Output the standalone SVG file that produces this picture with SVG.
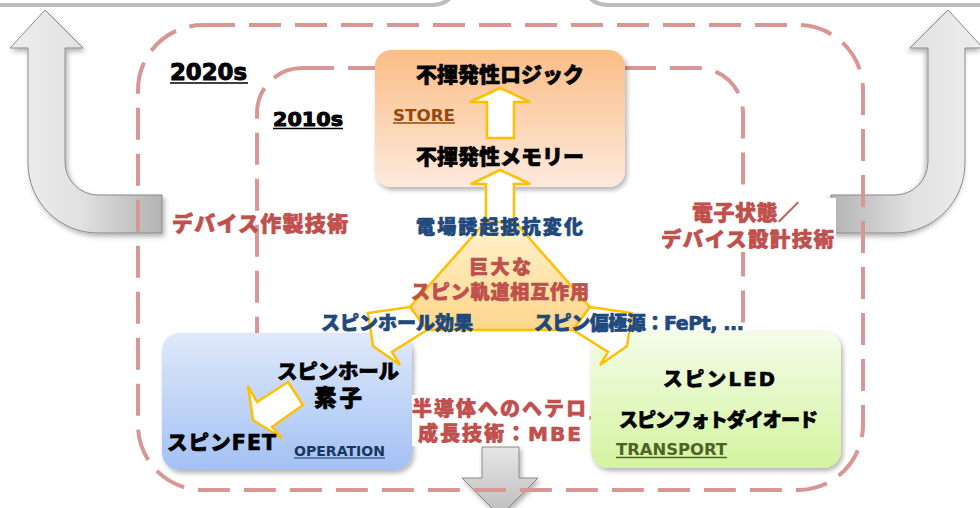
<svg xmlns="http://www.w3.org/2000/svg" width="980" height="508" viewBox="0 0 980 508">
<defs>
  <linearGradient id="gArrowH" x1="0" y1="0" x2="1" y2="0">
    <stop offset="0" stop-color="#eeeeee"/><stop offset="0.45" stop-color="#e2e2e2"/><stop offset="1" stop-color="#b3b3b3"/>
  </linearGradient>
  <linearGradient id="gArrowV" x1="0" y1="0" x2="0" y2="1">
    <stop offset="0" stop-color="#e6e6e6"/><stop offset="1" stop-color="#bcbcbc"/>
  </linearGradient>
  <linearGradient id="gOrange" x1="0" y1="0" x2="0" y2="1">
    <stop offset="0" stop-color="#fbbd85"/><stop offset="1" stop-color="#fdeadd"/>
  </linearGradient>
  <linearGradient id="gBlue" x1="0" y1="0" x2="0" y2="1">
    <stop offset="0" stop-color="#dfe9fa"/><stop offset="1" stop-color="#a3c1f4"/>
  </linearGradient>
  <linearGradient id="gGreen" x1="0" y1="0" x2="0" y2="1">
    <stop offset="0" stop-color="#f4fce8"/><stop offset="1" stop-color="#d4f4a0"/>
  </linearGradient>
  <linearGradient id="gTri" x1="0" y1="0" x2="0" y2="1">
    <stop offset="0" stop-color="#fff3d0"/><stop offset="1" stop-color="#fdd68a"/>
  </linearGradient>
  <filter id="shadow" x="-10%" y="-10%" width="125%" height="130%">
    <feDropShadow dx="2" dy="3" stdDeviation="2.5" flood-color="#000" flood-opacity="0.3"/>
  </filter>
</defs>
<style>
  .frame{fill:none;stroke:#d99694;stroke-width:4;stroke-dasharray:32 14}
  .topline{fill:none;stroke:#bdbdbd;stroke-width:4}
  .gray{stroke:#8a8a8a;stroke-width:1}
  .gold{fill:#ffffff;stroke:#ffc000;stroke-width:2.5;stroke-linejoin:miter}
  .box{filter:url(#shadow)}
  .jp{font-family:"Noto Sans CJK JP","Noto Sans CJK SC",sans-serif;font-weight:900;stroke-width:0.7;stroke-linejoin:round}
  .lat{font-family:"DejaVu Sans","Liberation Sans",sans-serif;font-weight:bold}
  .la{font-family:"DejaVu Sans","Liberation Sans",sans-serif;font-weight:bold}
  .k{fill:#000000;stroke:#000000}
  .r{fill:#c0504d;stroke:#c0504d}
  .b{fill:#1f497d;stroke:#1f497d}
</style>

<rect x="0" y="0" width="980" height="508" fill="#ffffff"/>

<!-- top gray outlines (partially visible) -->
<g id="top-outlines">
  <rect class="topline" x="-60" y="-200" width="518" height="205" rx="25"/>
  <rect class="topline" x="582" y="-200" width="460" height="205" rx="25"/>
</g>

<g id="connectors">
  <path id="arrow-left" class="gray" fill="url(#gArrowH)" filter="url(#shadow)"
        d="M45,10 L83,48 L65,48 L65,162 A33,33 0 0 0 98,195 L162,195 L162,233 L98,233 A70,70 0 0 1 28,163 L28,48 L10,48 Z"/>
  <path id="arrow-right" class="gray" fill="url(#gArrowH)" filter="url(#shadow)" transform="translate(993,0) scale(-1,1)"
        d="M45,10 L83,48 L65,48 L65,162 A33,33 0 0 0 98,195 L162,195 L162,233 L98,233 A70,70 0 0 1 28,163 L28,48 L10,48 Z"/>
  <path id="arrow-down" class="gray" fill="url(#gArrowV)" filter="url(#shadow)"
        d="M482,447 L519,447 L519,478 L538,478 L500,516 L462,478 L482,478 Z"/>
</g>

<g id="frames">
  <rect id="frame-2020s" class="frame" x="138" y="25" width="725" height="465" rx="65"/>
  <rect id="frame-2010s" class="frame" x="257" y="68" width="486" height="350" rx="45"/>
</g>

<g id="node-store">
  <rect class="box" x="375" y="50" width="250" height="137" rx="16" fill="url(#gOrange)"/>
  <polygon class="gold" points="500,88 530,102 514,102 514,138 487,138 487,102 470,102"/>
  <text class="jp k" x="416" y="81.5" font-size="21" textLength="168">不揮発性ロジック</text>
  <text class="jp k" x="416" y="163.5" font-size="21" textLength="168">不揮発性メモリー</text>
  <text class="lat" fill="#984807" x="393" y="120.5" font-size="15" textLength="62" lengthAdjust="spacingAndGlyphs">STORE</text>
  <line x1="393" y1="123" x2="455" y2="123" stroke="#984807" stroke-width="1.3"/>
</g>

<g id="node-operation">
  <rect class="box" x="162" y="333" width="250" height="137" rx="18" fill="url(#gBlue)"/>
  <polygon class="gold" points="288,382 257,402 248,386 253,420 282,438 272,427 303,405"/>
  <text class="jp k" x="277" y="378.5" font-size="20.5" textLength="122">スピンホール</text>
  <text class="jp k" x="314" y="406" font-size="22.5" textLength="48">素子</text>
  <text class="jp k" x="167" y="450" font-size="20.5" textLength="109">スピン<tspan class="la">FET</tspan></text>
  <text class="lat" fill="#17375e" x="294" y="455.5" font-size="13.5" textLength="91" lengthAdjust="spacingAndGlyphs">OPERATION</text>
  <line x1="294" y1="458" x2="385" y2="458" stroke="#17375e" stroke-width="1.2"/>
</g>

<g id="node-transport">
  <rect class="box" x="591" y="331" width="250" height="137" rx="18" fill="url(#gGreen)"/>
  <text class="jp k" x="663" y="386" font-size="19.5" textLength="112">スピン<tspan class="la">LED</tspan></text>
  <text class="jp k" x="619" y="426.5" font-size="19" textLength="199">スピンフォトダイオード</text>
  <text class="lat" fill="#4f6228" x="616" y="455" font-size="15" textLength="111" lengthAdjust="spacingAndGlyphs">TRANSPORT</text>
  <line x1="616" y1="457.5" x2="727" y2="457.5" stroke="#4f6228" stroke-width="1.3"/>
</g>

<g id="node-center">
  <polygon points="486,221 514,221 590,307 573,330 427,330 410,307" fill="url(#gTri)" stroke="#ffc000" stroke-width="2.5" stroke-linejoin="miter"/>
  <polygon class="gold" points="500,170 530,184 514,184 514,222 486,222 486,184 471,184"/>
  <polygon class="gold" points="410,307 368,313 373,346 400,365 392,352 427,330"/>
  <polygon class="gold" points="590,307 632,313 627,346 600,365 608,352 573,330"/>
  <text class="jp r" x="469" y="273.5" font-size="19" textLength="62">巨大な</text>
  <text class="jp r" x="411" y="298.5" font-size="19" textLength="178">スピン軌道相互作用</text>
</g>

<g id="labels">
  <text class="jp b" x="416" y="234" font-size="19" textLength="167">電場誘起抵抗変化</text>
  <text class="jp b" x="321" y="330" font-size="19" textLength="152">スピンホール効果</text>
  <text class="jp b" x="534" y="330" font-size="19" textLength="210">スピン偏極源：<tspan class="la">FePt, ...</tspan></text>

  <text class="jp r" x="172" y="231" font-size="21" textLength="176">デバイス作製技術</text>

  <rect x="660" y="198" width="176" height="54" fill="#ffffff"/>
  <text class="jp r" x="692" y="219.5" font-size="21" textLength="107">電子状態／</text>
  <text class="jp r" x="661" y="246.5" font-size="20.5" textLength="173">デバイス設計技術</text>

  <rect x="412" y="395" width="176" height="51" fill="#ffffff"/>
  <text class="jp r" x="412" y="416" font-size="20" textLength="174">半導体へのヘテロ</text>
  <text class="jp r" x="418" y="441" font-size="20" textLength="163">成長技術：<tspan class="la">MBE</tspan></text>

  <text class="lat k" x="170" y="80" font-size="23" textLength="77" lengthAdjust="spacingAndGlyphs">2020s</text>
  <line x1="170" y1="83" x2="248" y2="83" stroke="#000" stroke-width="1.5"/>
  <text class="lat k" x="273" y="126" font-size="20" textLength="70" lengthAdjust="spacingAndGlyphs">2010s</text>
  <line x1="273" y1="128.5" x2="343" y2="128.5" stroke="#000" stroke-width="1.4"/>
</g>
</svg>
